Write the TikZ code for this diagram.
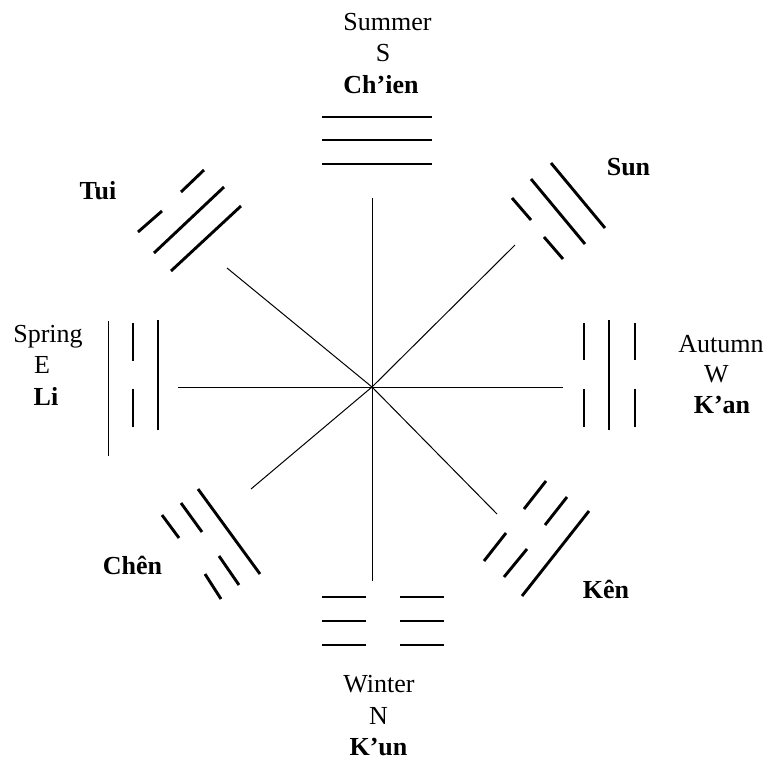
\documentclass[tikz,border=0pt]{standalone}
\usepackage{fontspec}
\setmainfont{Liberation Serif}
\begin{document}
\begin{tikzpicture}[x=1pt,y=-1pt,
  conn/.style={line width=1pt},
  yao/.style={line width=2.9pt},
  thinyao/.style={line width=1.5pt},
  lbl/.style={anchor=base, inner sep=0pt, font=\fontsize{26}{31}\selectfont},
  blbl/.style={anchor=base, inner sep=0pt, font=\fontsize{26}{31}\selectfont\bfseries}]
\useasboundingbox (0,0) rectangle (769,760);

% centre and connector ends
\coordinate (c) at (372,387);
\coordinate (eS) at (372,198);
\coordinate (eN) at (372,581);
\coordinate (eE) at (178,387);
\coordinate (eW) at (563,387);
\coordinate (eSW) at (515,245);
\coordinate (eSE) at (227,268);
\coordinate (eNE) at (251,489);
\coordinate (eNW) at (497,514);
\draw[conn] (c) -- (eS);
\draw[conn] (c) -- (eN);
\draw[conn] (c) -- (eE);
\draw[conn] (c) -- (eW);
\draw[conn] (c) -- (eSW);
\draw[conn] (c) -- (eSE);
\draw[conn] (c) -- (eNE);
\draw[conn] (c) -- (eNW);

% Ch'ien (top)
\draw[thinyao] (322,117) -- (432,117);
\draw[yao] (322,140) -- (432,140);
\draw[yao] (322,164) -- (432,164);

% Sun (upper right)
\draw[yao] (551,163) -- (605,228);
\draw[yao] (531,179) -- (585,244);
\draw[yao] (512,198) -- (531,220);
\draw[yao] (544,237) -- (563,259);

% Tui (upper left)
\draw[yao] (138,232) -- (162,211);
\draw[yao] (181,192) -- (204,170);
\draw[yao] (154,253) -- (224,187);
\draw[yao] (171,271) -- (241,206);

% Li (left)
\draw[conn] (108,321) -- (108,456);
\draw[yao] (133,323) -- (133,361);
\draw[yao] (133,389) -- (133,427);
\draw[yao] (158,320) -- (158,430);

% K'an (right)
\draw[yao] (584,323) -- (584,360);
\draw[yao] (584,389) -- (584,427);
\draw[yao] (609,320) -- (609,430);
\draw[yao] (635,323) -- (635,360);
\draw[yao] (635,389) -- (635,427);

% Chen (lower left)
\draw[yao] (162,515) -- (179,538);
\draw[yao] (205,574) -- (221,599);
\draw[yao] (181,503) -- (202,532);
\draw[yao] (219,556) -- (239,585);
\draw[yao] (198,489) -- (260,574);

% Ken (lower right)
\draw[yao] (522,596) -- (589,511);
\draw[yao] (504,577) -- (527,549);
\draw[yao] (545,525) -- (567,497);
\draw[yao] (484,561) -- (506,533);
\draw[yao] (524,509) -- (546,481);

% K'un (bottom)
\draw[yao] (322,597) -- (366,597);
\draw[yao] (400,597) -- (444,597);
\draw[yao] (322,621) -- (366,621);
\draw[yao] (400,621) -- (444,621);
\draw[yao] (322,645) -- (366,645);
\draw[yao] (400,645) -- (444,645);

% labels
\node[lbl] (summer) at (387.5,31) {Summer};
\node[lbl] (s) at (383,62) {S};
\node[blbl] (chien) at (381,93) {Ch’ien};
\node[blbl] (sun) at (628.5,175) {Sun};
\node[blbl] (tui) at (98,199) {Tui};
\node[lbl] (spring) at (48,342) {Spring};
\node[lbl] (e) at (42,373) {E};
\node[blbl] (li) at (46,405) {Li};
\node[lbl] (autumn) at (721,352) {Autumn};
\node[lbl] (w) at (716.5,382) {W};
\node[blbl] (kan) at (722,413) {K’an};
\node[blbl] (chen) at (132.5,574) {Chên};
\node[blbl] (ken) at (606,598) {Kên};
\node[lbl] (winter) at (379,692) {Winter};
\node[lbl] (n) at (378.5,724) {N};
\node[blbl] (kun) at (378.5,755) {K’un};
\end{tikzpicture}
\end{document}
